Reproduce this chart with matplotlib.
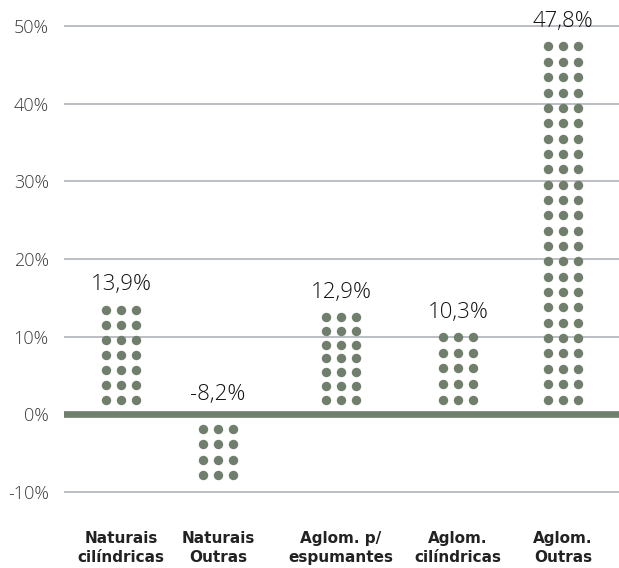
import numpy as np
import matplotlib.pyplot as plt

# data
categories = ['Naturais\ncilíndricas', 'Naturais\nOutras', 'Aglom. p/\nespumantes',
              'Aglom.\ncilíndricas', 'Aglom.\nOutras']
values = [13.9, -8.2, 12.9, 10.3, 47.8]
value_labels = ['13,9%', '-8,2%', '12,9%', '10,3%', '47,8%']
dot_rows = [7, 4, 7, 5, 24]
yticks = [-10, 0, 10, 20, 30, 40, 50]
ytick_labels = ['-10%', '0%', '10%', '20%', '30%', '40%', '50%']

# layout (x in pixel-like units, bars are not evenly spaced in the original)
x_pos = [121, 218, 341, 458, 563]
col_step = 14.8
dot_color = '#6f7f6b'
grid_color = '#b5b9bd'

fig = plt.figure(figsize=(6.19, 5.68), dpi=100)
ax = fig.add_axes([64 / 619, 68 / 568, 1 - 64 / 619, 490 / 568])
ax.set_xlim(64, 619)
ax.set_ylim(-11.05, 52.1)

for t in yticks:
    if t == 0:
        continue
    ax.axhline(t, color=grid_color, lw=1.3, zorder=1)
ax.axhline(0, color=dot_color, lw=4.8, zorder=2)

for x, v, n, lab in zip(x_pos, values, dot_rows, value_labels):
    sign = 1 if v > 0 else -1
    ys = np.linspace(sign * 1.9, v - sign * 0.4, n)
    for dx in (-col_step, 0, col_step):
        ax.scatter(np.full(n, x + dx), ys, s=46, color=dot_color,
                   linewidths=0, zorder=3)
    anchor = v if v > 0 else 0
    off = 11.5 if v > 0 else 10.3
    ax.annotate(lab, (x, anchor), xytext=(0, off), textcoords='offset points',
                ha='center', va='baseline', fontsize=16, color='#111111',
                family='Open Sans', fontweight='light')

ax.set_yticks(yticks)
ax.set_yticklabels(ytick_labels, fontsize=13, color='#3a3a3a',
                   family='Open Sans', fontweight='light')
ax.tick_params(axis='y', length=0, pad=11)
ax.set_xticks(x_pos)
ax.set_xticklabels(categories, fontsize=11, fontweight='bold', color='#222222',
                   linespacing=1.35)
ax.tick_params(axis='x', length=0, pad=22)

for s in ax.spines.values():
    s.set_visible(False)

fig.savefig('out.png', dpi=100)
